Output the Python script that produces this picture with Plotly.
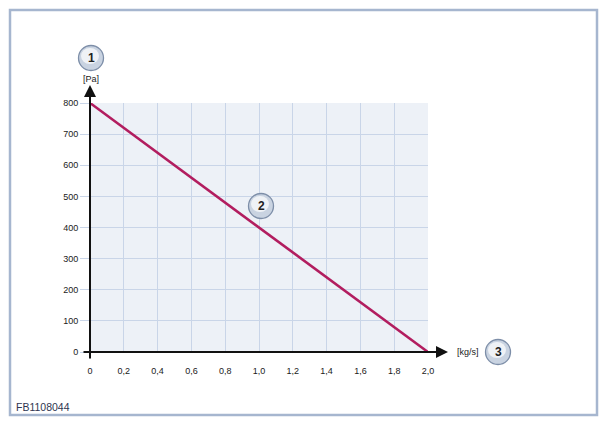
import plotly.graph_objects as go

# Data
flow_kgs = [0.0, 2.0]
pressure_pa = [800, 0]
x_ticks = [0, 0.2, 0.4, 0.6, 0.8, 1.0, 1.2, 1.4, 1.6, 1.8, 2.0]
x_tick_labels = ["0", "0,2", "0,4", "0,6", "0,8", "1,0", "1,2", "1,4", "1,6", "1,8", "2,0"]
y_ticks = [0, 100, 200, 300, 400, 500, 600, 700, 800]
y_tick_labels = [str(v) for v in y_ticks]

OFF = 8  # default body margin of the page
W, H = 607 - OFF, 426 - OFF
L, T = 90 - OFF, 103 - OFF
pw, ph = 338, 249
R, B = W - L - pw, H - T - ph


def px2paper_x(px):
    return (px - OFF - L) / pw


def px2paper_y(py):
    return (T + ph - (py - OFF)) / ph


FAM = "Liberation Sans, Arial, sans-serif"
font = dict(family=FAM, size=9, color="#1a1a1a")

fig = go.Figure()
fig.add_trace(go.Scatter(x=flow_kgs, y=pressure_pa, mode="lines",
                         line=dict(color="#b21d5f", width=2.6),
                         hoverinfo="skip", showlegend=False))

shapes = []
# outer frame
shapes.append(dict(type="rect", xref="paper", yref="paper",
                   x0=px2paper_x(10), x1=px2paper_x(597),
                   y0=px2paper_y(415), y1=px2paper_y(10),
                   line=dict(color="#a6b6cf", width=2.5), fillcolor="rgba(0,0,0,0)",
                   layer="below"))

# numbered circles
circles = [(91, 58, "1"), (261, 206, "2"), (498, 352, "3")]
annotations = []
for cx, cy, lab in circles:
    r = 12.5
    shapes.append(dict(type="circle", xref="paper", yref="paper",
                       xsizemode="pixel", ysizemode="pixel",
                       xanchor=px2paper_x(cx), yanchor=px2paper_y(cy),
                       x0=-r, x1=r, y0=-r, y1=r,
                       fillcolor="#c9d3e1", line=dict(color="#7d8ea8", width=1.3)))
    shapes.append(dict(type="circle", xref="paper", yref="paper",
                       xsizemode="pixel", ysizemode="pixel",
                       xanchor=px2paper_x(cx - 1), yanchor=px2paper_y(cy - 2),
                       x0=-9, x1=9, y0=-8, y1=8,
                       fillcolor="rgba(255,255,255,0.7)", line=dict(width=0)))
    annotations.append(dict(x=px2paper_x(cx), y=px2paper_y(cy), xref="paper", yref="paper",
                            xanchor="center", yanchor="middle",
                            text="<b>%s</b>" % lab, showarrow=False,
                            font=dict(family=FAM, size=12, color="#222222")))

# axis arrows
annotations.append(dict(x=0, y=px2paper_y(85), xref="x", yref="paper",
                        ax=0, ay=360 - 85, axref="pixel", ayref="pixel",
                        showarrow=True, arrowhead=2, arrowsize=1.2, arrowwidth=2,
                        arrowcolor="#111111", text=""))
annotations.append(dict(x=px2paper_x(448), y=0, xref="paper", yref="y",
                        ax=82 - 448, ay=0, axref="pixel", ayref="pixel",
                        showarrow=True, arrowhead=2, arrowsize=1.2, arrowwidth=2,
                        arrowcolor="#111111", text=""))

# unit labels
annotations.append(dict(x=px2paper_x(91), y=px2paper_y(79), xref="paper", yref="paper",
                        xanchor="center", yanchor="middle",
                        text="[Pa]", showarrow=False, font=font))
annotations.append(dict(x=px2paper_x(468), y=px2paper_y(352), xref="paper", yref="paper",
                        xanchor="center", yanchor="middle",
                        text="[kg/s]", showarrow=False, font=font))
annotations.append(dict(x=px2paper_x(14), y=px2paper_y(407), xref="paper", yref="paper",
                        xanchor="left", yanchor="middle", text="FB1108044", showarrow=False,
                        font=dict(family=FAM, size=10.5, color="#2e3550")))

fig.update_layout(
    width=W, height=H,
    margin=dict(l=L, r=R, t=T, b=B, pad=0),
    paper_bgcolor="white", plot_bgcolor="#edf1f7",
    showlegend=False,
    shapes=shapes, annotations=annotations,
    xaxis=dict(range=[0, 2.0], tickvals=x_ticks, ticktext=x_tick_labels,
               showgrid=True, gridcolor="#c9d5e8", gridwidth=1,
               zeroline=False, showline=False, ticks="", tickfont=font,
               ticklabelstandoff=12, fixedrange=True),
    yaxis=dict(range=[0, 800], tickvals=y_ticks, ticktext=y_tick_labels,
               showgrid=True, gridcolor="#c9d5e8", gridwidth=1,
               zeroline=False, showline=False, ticks="outside", ticklen=9,
               tickcolor="#c9d5e8", tickwidth=1, tickfont=font, fixedrange=True),
)

fig.write_html("out.html")
